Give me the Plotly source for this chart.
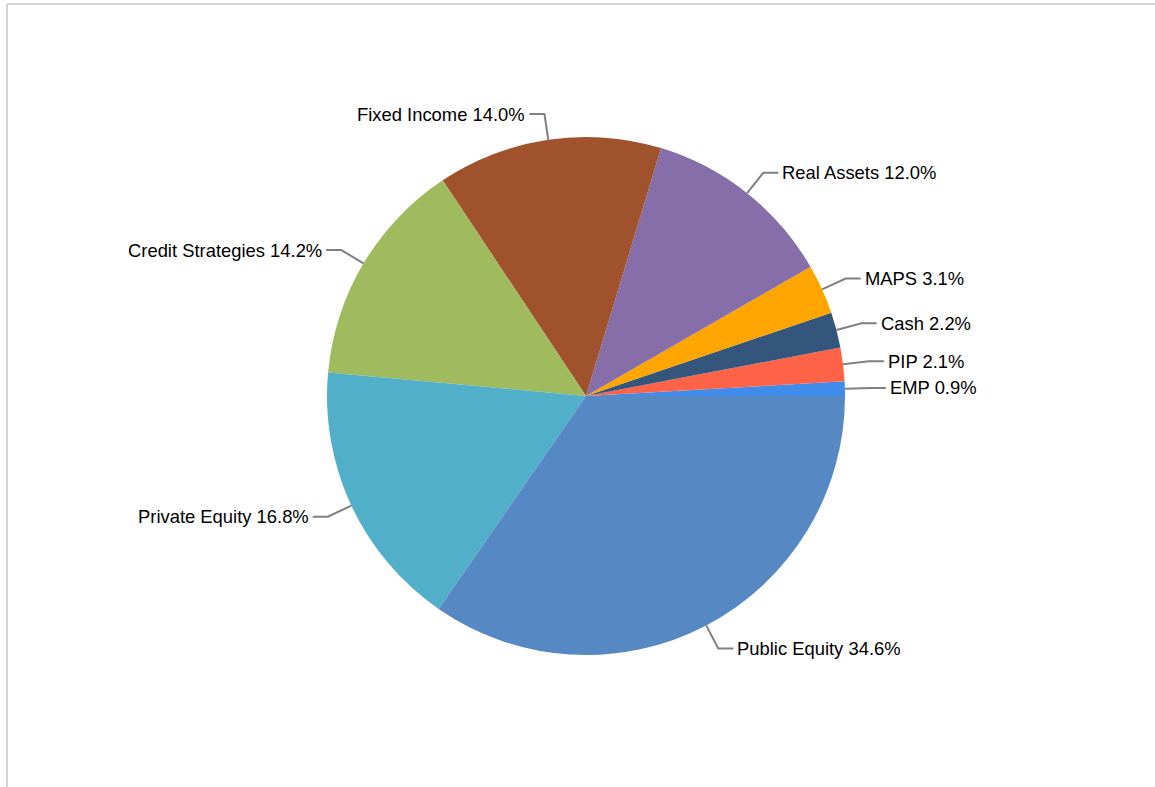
import math
import plotly.graph_objects as go

categories = ["EMP", "PIP", "Cash", "MAPS", "Real Assets", "Fixed Income",
              "Credit Strategies", "Private Equity", "Public Equity"]
values = [0.9, 2.1, 2.2, 3.1, 12.0, 14.0, 14.2, 16.8, 34.6]
colors = ["#3f8ceb", "#ff6347", "#34557c", "#ffa500", "#866ea8", "#a0522d",
          "#a0bb5e", "#52afc9", "#5689c3"]

W, H = 1155, 787
cx, cy, R = 586, 396, 259          # pie centre / radius in pixels
R_OUT = 285                        # leader line elbow radius
H_LEN = 15                         # horizontal leader length

total = sum(values)
# plotly (counterclockwise) places the first slice clockwise of `rotation`,
# so shift so that the first slice starts exactly at 3 o'clock
rotation = 90 - values[0] / total * 360

fig = go.Figure(go.Pie(
    labels=categories, values=values, sort=False,
    direction="counterclockwise", rotation=rotation,
    marker=dict(colors=colors, line=dict(width=0)),
    textinfo="none", hoverinfo="label+percent", showlegend=False,
    domain=dict(x=[(cx - R) / W, (cx + R) / W],
                y=[(H - cy - R) / H, (H - cy + R) / H]),
))

def px(x):
    return x / W

def py(y):
    return 1 - y / H

cum = 0.0
shapes = []
annotations = []
for name, v in zip(categories, values):
    mid = (cum + v / 2) / total * 2 * math.pi
    cum += v
    ca, sa = math.cos(mid), math.sin(mid)
    x0, y0 = cx + R * ca, cy - R * sa
    x1, y1 = cx + R_OUT * ca, cy - R_OUT * sa
    right = ca >= 0
    x2 = x1 + (H_LEN if right else -H_LEN)
    shapes.append(dict(
        type="path", xref="paper", yref="paper",
        path=f"M {px(x0)} {py(y0)} L {px(x1)} {py(y1)} L {px(x2)} {py(y1)}",
        line=dict(color="#808080", width=2),
    ))
    annotations.append(dict(
        x=px(x2 + (2 if right else -2)), y=py(y1), xref="paper", yref="paper",
        text=f"{name} {v:.1f}%", showarrow=False,
        xanchor="left" if right else "right", yanchor="middle",
        font=dict(family="Liberation Sans, Arial, sans-serif", size=18.4, color="#000000"),
    ))

# frame lines at top and left
shapes.append(dict(type="line", xref="paper", yref="paper",
                   x0=px(7), x1=1, y0=py(4), y1=py(4),
                   line=dict(color="#d3d3d3", width=2)))
shapes.append(dict(type="line", xref="paper", yref="paper",
                   x0=px(7), x1=px(7), y0=py(4), y1=0,
                   line=dict(color="#d3d3d3", width=2)))

fig.update_layout(
    width=W, height=H, margin=dict(l=0, r=0, t=0, b=0),
    paper_bgcolor="white", plot_bgcolor="white",
    shapes=shapes, annotations=annotations,
)

fig.write_html("out.html")
